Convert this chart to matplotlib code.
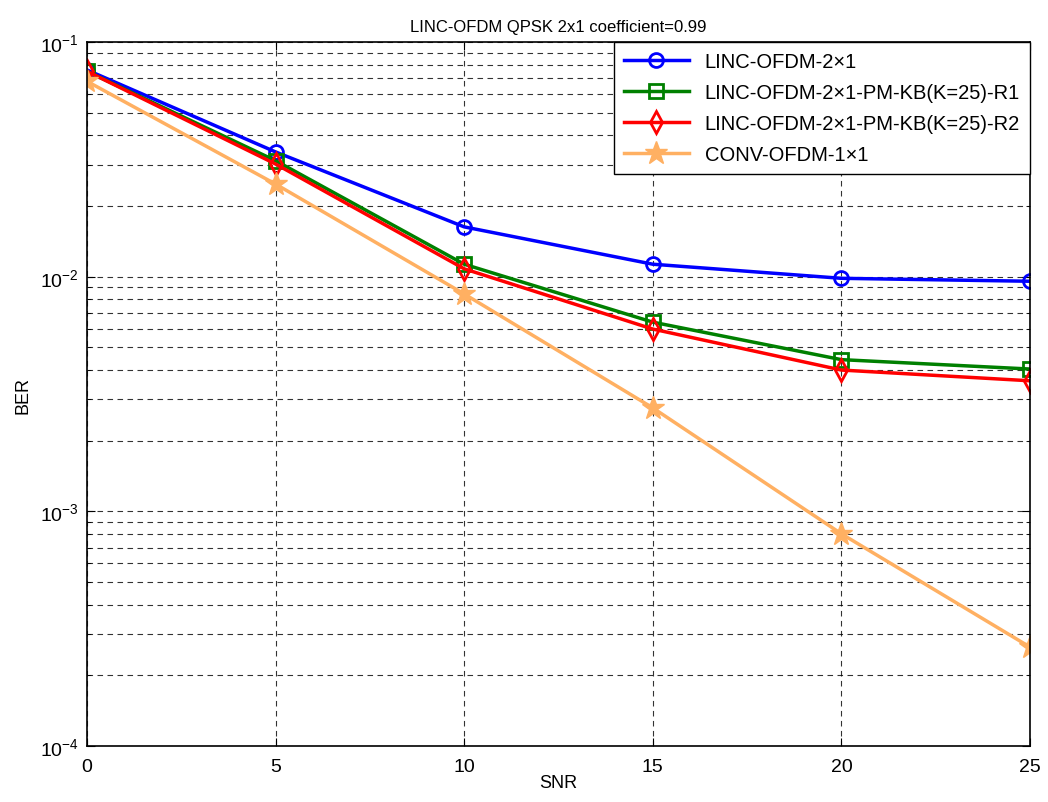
import numpy as np
import matplotlib.pyplot as plt
from matplotlib.ticker import LogLocator, NullFormatter

plt.rcParams['font.family'] = ['Liberation Sans', 'DejaVu Sans']

snr = [0, 5, 10, 15, 20, 25]
ber_linc = [0.076, 0.034, 0.0163, 0.0113, 0.00984, 0.00956]
ber_r1 = [0.075, 0.0312, 0.0113, 0.0064, 0.00443, 0.00404]
ber_r2 = [0.075, 0.0302, 0.0108, 0.00598, 0.0040, 0.0036]
ber_conv = [0.068, 0.0248, 0.00844, 0.00276, 0.000802, 0.000264]

labels = [
    "LINC-OFDM-2\u00d71",
    "LINC-OFDM-2\u00d71-PM-KB(K=25)-R1",
    "LINC-OFDM-2\u00d71-PM-KB(K=25)-R2",
    "CONV-OFDM-1\u00d71",
]

fig = plt.figure(figsize=(10.48, 8.03), dpi=100)
ax = fig.add_axes([87 / 1048, 1 - 747 / 803, (1030 - 87) / 1048, (747 - 43) / 803])

lw = 2.5
ax.plot(snr, ber_linc, color='#0000ff', lw=lw, marker='o', ms=10, mfc='none', mew=2, label=labels[0])
ax.plot(snr, ber_r1, color='#008000', lw=lw, marker='s', ms=10, mfc='none', mew=2, label=labels[1])
ax.plot(snr, ber_r2, color='#ff0000', lw=lw, marker='d', ms=11, mfc='none', mew=2, label=labels[2])
ax.plot(snr, ber_conv, color='#ffb062', lw=lw, marker='*', ms=17, mew=1, label=labels[3])

ax.set_yscale('log')
ax.set_xlim(0, 25)
ax.set_ylim(1e-4, 1e-1)
ax.set_xticks(snr)
ax.yaxis.set_major_locator(LogLocator(base=10, numticks=10))
ax.yaxis.set_minor_locator(LogLocator(base=10, subs=np.arange(2, 10), numticks=20))
ax.yaxis.set_minor_formatter(NullFormatter())

ax.grid(True, which='major', axis='both', ls=(0, (5, 4)), color='black', lw=0.8, alpha=0.8)
ax.grid(True, which='minor', axis='y', ls=(0, (5, 4)), color='black', lw=0.8, alpha=0.8)

ax.tick_params(which='both', direction='in', top=True, right=True, labelsize=14)
ax.tick_params(which='major', length=6)
ax.tick_params(which='minor', length=3)
ax.tick_params(axis='x', pad=9)
ax.tick_params(axis='y', pad=6)
for s in ax.spines.values():
    s.set_linewidth(1.2)

ax.set_xlabel('SNR', fontsize=13, labelpad=-1)
ax.set_ylabel('BER', fontsize=13, labelpad=6)
ax.set_title('LINC-OFDM QPSK 2x1 coefficient=0.99', fontsize=12, pad=8)

leg = ax.legend(loc='upper right', fontsize=14.5, fancybox=False, edgecolor='black',
                framealpha=1, borderaxespad=0.0, handlelength=3.2, labelspacing=0.6,
                borderpad=0.5)
leg.get_frame().set_linewidth(1.0)

fig.savefig('out.png', dpi=100)
